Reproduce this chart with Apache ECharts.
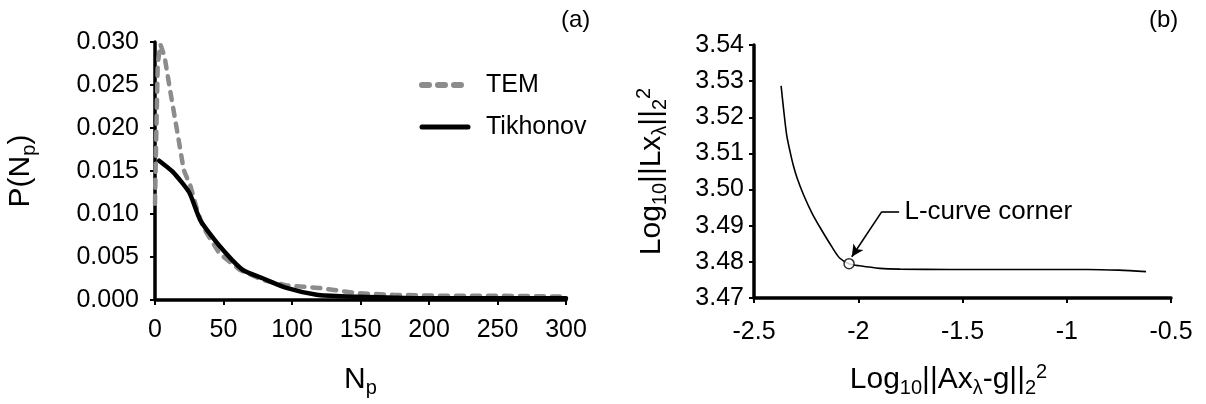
<!DOCTYPE html>
<html>
<head>
<meta charset="utf-8">
<script src="https://cdn.jsdelivr.net/npm/echarts@6/dist/echarts.min.js"></script>
<style>
html,body{margin:0;padding:0;background:#fff;}
#chart{width:1206px;height:404px;}
</style>
</head>
<body>
<div id="chart"></div>
<script>
// ---- Panel (a) data ----
const temN = [0, 1, 2, 4, 5, 7, 11, 16, 21, 26, 30, 35, 47, 62, 79, 96, 120, 147, 174, 208, 250, 300];
const temP = [0.0112, 0.0198, 0.0275, 0.0297, 0.0298, 0.0283, 0.0244, 0.0198, 0.0151, 0.0132, 0.0109, 0.0085, 0.0054, 0.0035, 0.0023, 0.0017, 0.0014, 0.0008, 0.0006, 0.0005, 0.0005, 0.0004];
const tikN = [3, 13, 25, 33, 47, 64, 79, 96, 118, 140, 170, 200, 250, 300];
const tikP = [0.0162, 0.0149, 0.0125, 0.0093, 0.0063, 0.0035, 0.0025, 0.0014, 0.0006, 0.0004, 0.0003, 0.0002, 0.0002, 0.0002];
const seriesNames = ['TEM', 'Tikhonov'];

// ---- Panel (b) data ----
const lcurveX = [-2.370, -2.358, -2.343, -2.327, -2.311, -2.292, -2.262, -2.222, -2.183, -2.127, -2.088, -2.044, -1.992, -1.896, -1.80, -1.56, -1.20, -0.90, -0.75, -0.62];
const lcurveY = [3.5287, 3.5222, 3.5150, 3.5105, 3.5066, 3.5030, 3.4985, 3.4935, 3.4895, 3.4842, 3.4810, 3.4795, 3.4789, 3.4782, 3.4780, 3.4779, 3.4779, 3.4779, 3.4777, 3.4773];
const cornerPoint = [-2.044, 3.4795];
const arrowTip = [-2.031, 3.4814];
const arrowElbow = [-1.887, 3.4939];
const arrowEnd = [-1.804, 3.4939];
const cornerLabelPos = [-1.80, 3.4939];
const cornerLabel = 'L-curve corner';
const panelLabels = ['(a)', '(b)'];

const FONT = '"Liberation Sans", Arial, sans-serif';
const zip = (a, b) => a.map((v, i) => [v, b[i]]);

const tickFs = 25;
const nameFs = 30;
const subStyle = {fontSize: 20, fontFamily: FONT, color: '#000', verticalAlign: 'bottom', lineHeight: 26};
const supStyle = {fontSize: 20, fontFamily: FONT, color: '#000', verticalAlign: 'top', lineHeight: 16};
const mainStyle = {fontSize: nameFs, fontFamily: FONT, color: '#000', lineHeight: 36};
const nameRich = {m: mainStyle, s: subStyle, p: supStyle};

function axisCommon(extra) {
  return Object.assign({
    axisLine: {show: true, lineStyle: {color: '#000', width: 3.5}},
    axisTick: {show: true, inside: false, length: 5, lineStyle: {color: '#000', width: 2}},
    splitLine: {show: false},
    nameLocation: 'middle'
  }, extra);
}

const chart = echarts.init(document.getElementById('chart'), null, {renderer: 'canvas'});
const option = {
  animation: false,
  backgroundColor: '#fff',
  textStyle: {fontFamily: FONT},
  title: [
    {text: panelLabels[0], left: 556, top: 3, textStyle: {fontSize: 24, fontWeight: 'normal', color: '#000', fontFamily: FONT}},
    {text: panelLabels[1], left: 1144, top: 3, textStyle: {fontSize: 24, fontWeight: 'normal', color: '#000', fontFamily: FONT}}
  ],
  legend: {
    orient: 'vertical',
    left: 414, top: 66,
    itemWidth: 46, itemHeight: 10,
    itemGap: 14,
    itemStyle: {opacity: 0},
    data: [
      {name: seriesNames[0], lineStyle: {color: '#8c8c8c', width: 6, type: [7, 9], cap: 'round'}},
      {name: seriesNames[1], lineStyle: {color: '#000', width: 5}}
    ],
    textStyle: {fontSize: 25, color: '#000', fontFamily: FONT, padding: [0, 0, 0, 13], lineHeight: 28}
  },
  grid: [
    {left: 155, top: 42, width: 411, height: 258, containLabel: false},
    {left: 754, top: 45, width: 417, height: 253, containLabel: false}
  ],
  xAxis: [
    axisCommon({
      gridIndex: 0, type: 'value', min: 0, max: 300, interval: 50,
      axisLabel: {fontSize: tickFs, color: '#000', fontFamily: FONT, margin: 18},
      name: '{m|N}{s|p}', nameGap: 62,
      nameTextStyle: {rich: nameRich}
    }),
    axisCommon({
      gridIndex: 1, type: 'value', min: -2.5, max: -0.5, interval: 0.5,
      axisLabel: {fontSize: tickFs, color: '#000', fontFamily: FONT, margin: 22,
        formatter: v => String(Math.round(v * 10) / 10)},
      name: '{m|Log}{s|10}{m|||Ax}{s|λ}{m|-g||}{s|2}{p|2}', nameGap: 64,
      nameTextStyle: {rich: nameRich, padding: [0, 28, 0, 0]}
    })
  ],
  yAxis: [
    axisCommon({
      gridIndex: 0, type: 'value', min: 0, max: 0.03, interval: 0.005,
      axisLabel: {fontSize: tickFs, color: '#000', fontFamily: FONT, margin: 16, padding: [12, 0, 0, 0],
        formatter: v => v.toFixed(3)},
      name: '{m|P(N}{s|p}{m|)}', nameGap: 116,
      nameTextStyle: {rich: nameRich}
    }),
    axisCommon({
      gridIndex: 1, type: 'value', min: 3.47, max: 3.54, interval: 0.01,
      axisLabel: {fontSize: tickFs, color: '#000', fontFamily: FONT, margin: 10, padding: [12, 0, 0, 0],
        formatter: v => v.toFixed(2)},
      name: '{m|Log}{s|10}{m|||Lx}{s|λ}{m|||}{s|2}{p|2}', nameGap: 84,
      nameTextStyle: {rich: nameRich}
    })
  ],
  series: [
    {
      name: seriesNames[0], type: 'line', xAxisIndex: 0, yAxisIndex: 0,
      data: zip(temN, temP), symbol: 'none', smooth: false,
      lineStyle: {color: '#8c8c8c', width: 4.5, type: [8, 8], cap: 'round', join: 'round'},
      itemStyle: {color: '#8c8c8c'},
      z: 2
    },
    {
      name: seriesNames[1], type: 'line', xAxisIndex: 0, yAxisIndex: 0,
      data: zip(tikN, tikP), symbol: 'none', smooth: 0.2,
      lineStyle: {color: '#000', width: 4.5, cap: 'round', join: 'round'},
      itemStyle: {color: '#000'},
      z: 3
    },
    {
      name: 'lcurve', type: 'line', xAxisIndex: 1, yAxisIndex: 1,
      data: zip(lcurveX, lcurveY), symbol: 'none', smooth: 0.3,
      lineStyle: {color: '#000', width: 1.6},
      markLine: {
        silent: true, animation: false,
        lineStyle: {color: '#000', width: 1.6, type: 'solid'},
        label: {show: false},
        symbolSize: [9, 12],
        data: [
          [{coord: arrowElbow, symbol: 'none'}, {coord: arrowTip, symbol: 'arrow'}],
          [{coord: arrowEnd, symbol: 'none'}, {coord: arrowElbow, symbol: 'none'}]
        ]
      },
      z: 3
    },
    {
      name: 'corner', type: 'scatter', xAxisIndex: 1, yAxisIndex: 1,
      data: [cornerPoint], symbol: 'circle', symbolSize: 10,
      itemStyle: {color: '#fff', borderColor: '#000', borderWidth: 1.5},
      z: 5
    },
    {
      name: 'cornerLabel', type: 'scatter', xAxisIndex: 1, yAxisIndex: 1,
      data: [cornerLabelPos], symbolSize: 1,
      itemStyle: {color: '#fff', opacity: 0},
      label: {show: true, position: 'right', distance: 4, formatter: cornerLabel,
        fontSize: 26, color: '#000', opacity: 1, fontFamily: FONT},
      z: 5
    }
  ]
};
chart.setOption(option);
</script>
</body>
</html>
